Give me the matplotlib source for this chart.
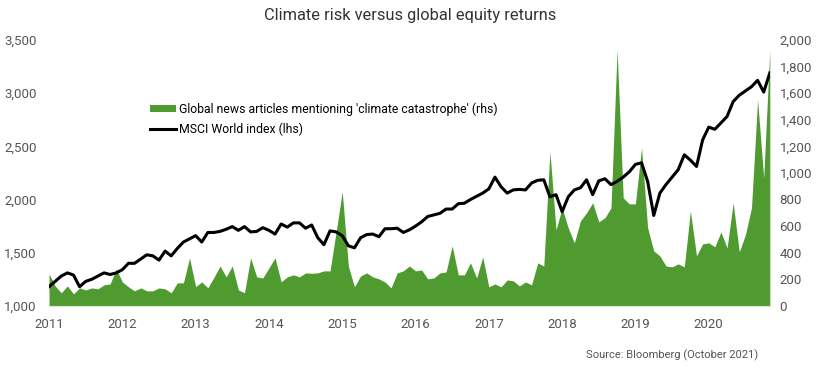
import numpy as np
import matplotlib
matplotlib.use('Agg')
import matplotlib.pyplot as plt

plt.rcParams['font.family'] = ['Roboto', 'DejaVu Sans']

# monthly values from Jan 2011
msci = [1180, 1230, 1280, 1310, 1290, 1180, 1230, 1250, 1280, 1310, 1295, 1310,
        1340, 1400, 1400, 1440, 1480, 1470, 1430, 1515, 1470, 1540, 1600, 1630,
        1660, 1600, 1690, 1690, 1700, 1720, 1745, 1710, 1745, 1695, 1700, 1735,
        1710, 1675, 1770, 1740, 1780, 1780, 1730, 1760, 1640, 1575, 1705, 1695,
        1660, 1565, 1545, 1640, 1670, 1675, 1650, 1725, 1725, 1730, 1690, 1715,
        1750, 1790, 1840, 1855, 1870, 1910, 1910, 1960, 1965, 2000, 2030, 2060,
        2100, 2210, 2120, 2060, 2090, 2095, 2090, 2155, 2180, 2185, 2025, 2045,
        1885, 2025, 2090, 2110, 2185, 2045, 2175, 2195, 2140, 2170, 2210, 2260,
        2330, 2345, 2170, 1850, 2060, 2140, 2210, 2280, 2420, 2370, 2310, 2560,
        2680, 2660, 2720, 2780, 2920, 2980, 3020, 3060, 3120, 3010, 3190]

articles = [240, 150, 98, 150, 90, 135, 120, 135, 128, 158, 165, 278,
            180, 143, 113, 135, 113, 113, 135, 128, 98, 173, 173, 361,
            145, 180, 135, 215, 300, 218, 300, 120, 98, 361, 218, 210,
            285, 361, 180, 218, 233, 218, 248, 245, 248, 263, 263, 556,
            860, 300, 143, 225, 248, 218, 203, 180, 135, 248, 263, 300,
            263, 270, 203, 210, 248, 255, 451, 233, 233, 323, 210, 368,
            143, 165, 143, 195, 188, 150, 180, 158, 323, 300, 1160, 571,
            737, 586, 474, 639, 700, 775, 632, 662, 737, 1925, 812, 767,
            767, 1190, 586, 413, 376, 300, 293, 316, 293, 714, 376, 466,
            474, 444, 556, 436, 775, 406, 534, 737, 1550, 962, 1925]

years = ['2011', '2012', '2013', '2014', '2015', '2016', '2017', '2018', '2019', '2020']

x = np.arange(len(msci))
green = '#4f9b30'
grey = '#555555'

fig = plt.figure(figsize=(8.2, 3.73), dpi=100)
ax = fig.add_axes([0.0598, 0.18, 0.879, 0.713])
ax2 = ax.twinx()

ax2.fill_between(x, 0, articles, color=green, linewidth=0,
                 label="Global news articles mentioning 'climate catastrophe' (rhs)")
ax.plot(x, msci, color='black', linewidth=2.2, label='MSCI World index (lhs)')

ax.set_zorder(ax2.get_zorder() + 1)
ax.patch.set_visible(False)

ax.set_xlim(0, len(msci) - 1)
ax.set_ylim(1000, 3500)
ax.set_yticks(range(1000, 3501, 500))
ax.set_yticklabels([f'{v:,}' for v in range(1000, 3501, 500)])
ax2.set_ylim(0, 2000)
ax2.set_yticks(range(0, 2001, 200))
ax2.set_yticklabels([f'{v:,}' for v in range(0, 2001, 200)])
ax.set_xticks(range(0, len(msci), 12))
ax.set_xticklabels(years)

for a in (ax, ax2):
    for s in a.spines.values():
        s.set_visible(False)
    a.tick_params(length=0, labelsize=9.5, labelcolor=grey)
ax.tick_params(axis='y', pad=9)
ax.tick_params(axis='x', pad=9)
ax2.tick_params(axis='y', pad=7)
ax2.spines['bottom'].set_visible(True)
ax2.spines['bottom'].set_color('#dde8d6')

fig.text(0.5, 0.958, 'Climate risk versus global equity returns', ha='center', va='center',
         fontsize=11.8, color='#333333')
fig.text(0.924, 0.048, 'Source: Bloomberg (October 2021)', ha='right', va='center',
         fontsize=8, color=grey)

h1, l1 = ax2.get_legend_handles_labels()
h2, l2 = ax.get_legend_handles_labels()
fig.legend(h1 + h2, l1 + l2, loc='upper left', bbox_to_anchor=(0.176, 0.742),
           frameon=False, fontsize=8.8, handlelength=2.1, handleheight=0.5,
           handletextpad=0.2, labelspacing=0.55, borderpad=0)

fig.savefig('out.png', dpi=100)
